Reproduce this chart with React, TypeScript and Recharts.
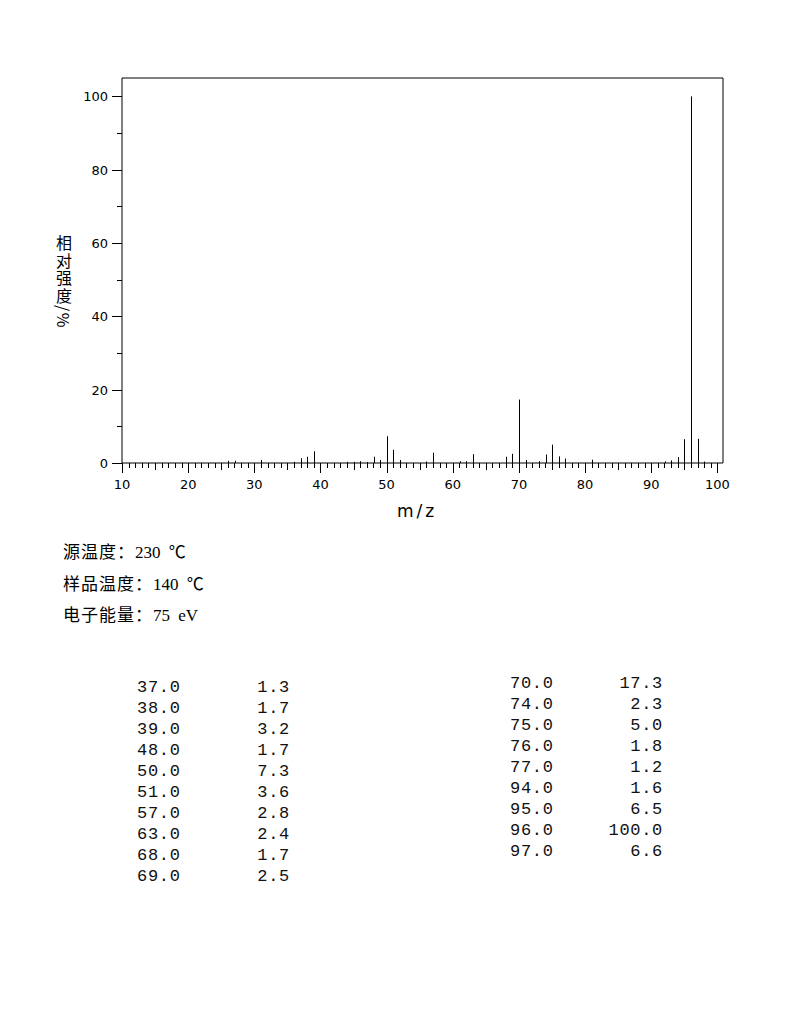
import React from 'react';
import { BarChart, Bar, XAxis, YAxis, ReferenceLine } from 'recharts';

// Mass spectrum peaks (m/z, relative intensity %)
const mzValues = [26, 27, 31, 36, 37, 38, 39, 44, 45, 46, 47, 48, 49, 50, 51, 52, 56, 57, 61, 62, 63, 68, 69, 70, 71, 73, 74, 75, 76, 77, 81, 92, 93, 94, 95, 96, 97, 98];
const intensityValues = [0.6, 0.6, 0.8, 0.3, 1.3, 1.7, 3.2, 0.3, 0.3, 0.5, 0.3, 1.7, 0.8, 7.3, 3.6, 0.8, 0.4, 2.8, 0.5, 0.5, 2.4, 1.7, 2.5, 17.3, 0.8, 0.5, 2.3, 5.0, 1.8, 1.2, 0.9, 0.45, 0.7, 1.6, 6.5, 100, 6.6, 0.4];

const xTicks = Array.from({ length: 91 }, (_, i) => 10 + i);
const yTicks = [0, 10, 20, 30, 40, 50, 60, 70, 80, 90, 100];
const X_MIN = 10;
const X_MAX = 100.85;
const Y_MAX = 105;

const infoLines = ['源温度：230 ℃', '样品温度：140 ℃', '电子能量：75 eV'];
const xLabel = 'm/z';
const yLabel = '相对强度/%';

const data = mzValues.map((mz, i) => ({ mz, intensity: intensityValues[i] }));
const tableRows = data.filter((d) => d.intensity >= 1);
const leftRows = tableRows.slice(0, 10);
const rightRows = tableRows.slice(10);

const tickFont = '"DejaVu Sans", sans-serif';

const XTick = (props: any) => {
  const { x, y, payload } = props;
  const v = payload.value;
  const len = v % 10 === 0 ? 10 : v % 5 === 0 ? 7 : 5;
  const xx = Math.round(x) + 0.5;
  return (
    <g>
      <line x1={xx} x2={xx} y1={y} y2={y + len} stroke="#000" strokeWidth={1} />
      {v % 10 === 0 && (
        <text x={x} y={y + 26} textAnchor="middle" fontSize={13} fontFamily={tickFont} fill="#000">
          {v}
        </text>
      )}
    </g>
  );
};

const YTick = (props: any) => {
  const { x, y, payload } = props;
  const v = payload.value;
  const major = v % 20 === 0;
  const len = major ? 10 : 5;
  const yy = Math.round(y) + 0.5;
  return (
    <g>
      <line x1={x - len} x2={x} y1={yy} y2={yy} stroke="#000" strokeWidth={1} />
      {major && (
        <text x={x - 14} y={y + 5} textAnchor="end" fontSize={13} fontFamily={tickFont} fill="#000">
          {v}
        </text>
      )}
    </g>
  );
};

const PeakShape = (props: any) => {
  const { x, y, width, height } = props;
  if (height == null || height <= 0) return null;
  const cx = Math.round(x + width / 2);
  return <rect x={cx} y={y} width={1} height={height} fill="#000" />;
};

const monoFont = '"Liberation Mono", "DejaVu Sans Mono", monospace';

const TableCol = ({ rows, left, top, valueRight }: any) => (
  <div style={{ position: 'absolute', left, top, fontFamily: monoFont, fontSize: 17, letterSpacing: 0.7, lineHeight: '21px', color: '#111' }}>
    {rows.map((r: any) => (
      <div key={r.mz} style={{ position: 'relative', height: 21, width: valueRight - left }}>
        <span style={{ position: 'absolute', left: 0 }}>{r.mz.toFixed(1)}</span>
        <span style={{ position: 'absolute', right: 0 }}>{r.intensity.toFixed(1)}</span>
      </div>
    ))}
  </div>
);

export default function App() {
  return (
    <div style={{ position: 'absolute', left: 0, top: 0, width: 794, height: 1020, background: '#fff' }}>
      <BarChart
        width={794}
        height={530}
        data={data}
        margin={{ top: 78, right: 71, left: 62, bottom: 17 }}
        barCategoryGap={0}
      >
        <XAxis
          dataKey="mz"
          type="number"
          domain={[X_MIN, X_MAX]}
          ticks={xTicks}
          interval={0}
          tickLine={false}
          tickSize={0}
          tickMargin={0}
          tick={<XTick />}
          axisLine={{ stroke: '#000' }}
          height={50}
          allowDataOverflow
        />
        <YAxis
          type="number"
          domain={[0, Y_MAX]}
          ticks={yTicks}
          interval={0}
          tickLine={false}
          tickSize={0}
          tickMargin={0}
          tick={<YTick />}
          axisLine={{ stroke: '#000' }}
          width={60}
          allowDataOverflow
        />
        <ReferenceLine y={Y_MAX} stroke="#000" strokeWidth={1} ifOverflow="visible" />
        <ReferenceLine x={X_MAX} stroke="#000" strokeWidth={1} ifOverflow="visible" />
        <Bar dataKey="intensity" barSize={1} fill="#000" shape={<PeakShape />} isAnimationActive={false} />
      </BarChart>

      <div
        style={{
          position: 'absolute',
          left: 397,
          top: 500,
          width: 36,
          textAlign: 'center',
          fontFamily: tickFont,
          fontSize: 17,
          lineHeight: '22px',
          letterSpacing: 3,
          whiteSpace: 'nowrap',
        }}
      >
        {xLabel}
      </div>

      <div
        style={{
          position: 'absolute',
          left: 55,
          top: 235,
          writingMode: 'vertical-rl',
          fontFamily: '"Noto Sans CJK SC", sans-serif',
          fontSize: 16,
          lineHeight: '18px',
          letterSpacing: 1.5,
          color: '#000',
          whiteSpace: 'nowrap',
        }}
      >
        {yLabel}
      </div>

      {infoLines.map((t, i) => {
        const [label, value] = t.split('：');
        return (
          <div
            key={t}
            style={{
              position: 'absolute',
              left: 63,
              top: [540, 572, 603][i],
              fontFamily: '"Liberation Serif", "Noto Sans CJK SC", serif',
              fontSize: 17,
              lineHeight: '22px',
              whiteSpace: 'pre',
              color: '#000',
            }}
          >
            <span style={{ fontFamily: '"Noto Sans CJK SC", sans-serif', letterSpacing: 1 }}>{label + '：'}</span>
            <span style={{ wordSpacing: 4 }}>{value}</span>
          </div>
        );
      })}

      <TableCol rows={leftRows} left={137} top={677} valueRight={290} />
      <TableCol rows={rightRows} left={510} top={673} valueRight={663} />
    </div>
  );
}
